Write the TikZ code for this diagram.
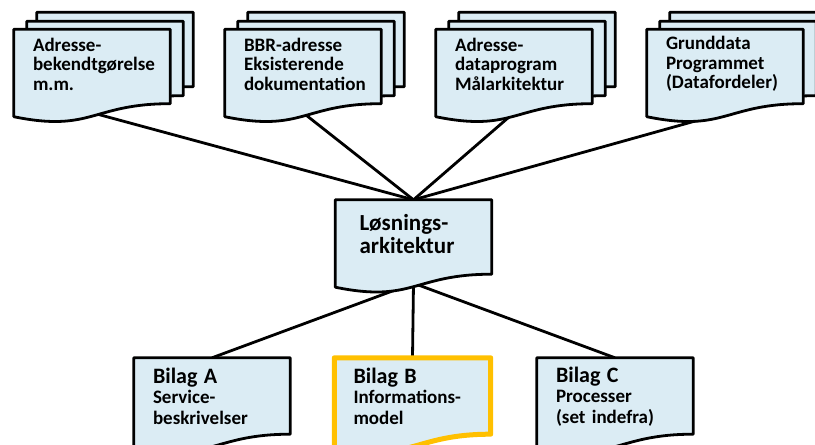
\documentclass[tikz,border=0pt]{standalone}
\usepackage{fontspec}
\setmainfont{Carlito}
\usetikzlibrary{calc,backgrounds}
\definecolor{docfill}{RGB}{219,236,244}
\definecolor{bilagline}{RGB}{255,192,0}
% Omrids af et dokument (boelget bund under nodens south)
\newcommand{\docpath}[1]{(#1.north west) -- (#1.north east) -- ($(#1.south east)+(0,-5)$) .. controls ($(#1.south)+(0,-5)$) and ($(#1.south)+(0,-34)$) .. ($(#1.south west)+(0,-18)$) -- cycle}
\newcommand{\bigline}[1]{{\fontsize{22}{22}\selectfont\rule{0pt}{21pt}#1}}

\begin{document}
\begin{tikzpicture}[x=1pt,y=1pt,
    doc/.style={minimum width=156pt, minimum height=69pt, inner xsep=19pt, inner ysep=0pt,
        text width=118pt, align=left, font=\bfseries\fontsize{19}{19.5}\selectfont},
    sol/.style={doc, inner xsep=24pt, text width=108pt, font=\bfseries\fontsize{23}{23}\selectfont},
    bilag/.style={doc, minimum height=71pt, font=\bfseries\fontsize{19}{20.5}\selectfont},
    docline/.style={draw=black, line width=2.8pt, fill=docfill, line join=round},
    conn/.style={line width=2.8pt}]
    \useasboundingbox (0,0) rectangle (815,445);
    % Kildedokumenter
    \foreach \n/\x/\t in {adr/92/{Adresse-\\bekendtgørelse\\m.m.},
                          bbr/303/{BBR-adresse\\Eksisterende\\dokumentation},
                          dap/514/{Adresse-\\dataprogram\\Målarkitektur},
                          gdp/725/{Grunddata\\Programmet\\(Datafordeler)}}
        \node[doc] (\n) at (\x,381) {\t};
    % Loesningsarkitektur
    \node[sol] (los) at (413.5,210.5) {Løsnings-\\arkitektur};
    % Bilag
    \node[bilag] (bilA) at (212,51.5) {\bigline{Bilag A}\\Service-\\beskrivelser};
    \node[bilag] (bilB) at (412.5,51.5) {\bigline{Bilag B}\\Informations-\\model};
    \node[bilag] (bilC) at (615,51.5) {\bigline{Bilag C}\\Processer\\(set indefra)};
    \begin{scope}[on background layer]
        % Forbindelser
        \foreach \n in {adr,bbr,dap,gdp}
            \draw[conn] ($(\n.south)+(0,-14)$) -- (los.north);
        \foreach \n in {bilA,bilB,bilC}
            \draw[conn] ($(los.south)+(0,-14)$) -- (\n.north);
        % Dokumentstakke
        \foreach \n in {adr,bbr,dap,gdp} {
            \draw[docline, transform canvas={shift={(23pt,17pt)}}] \docpath{\n};
            \draw[docline, transform canvas={shift={(13pt,8pt)}}] \docpath{\n};
            \draw[docline] \docpath{\n};
        }
        \draw[docline] \docpath{los};
        \draw[docline] \docpath{bilA};
        \draw[docline, draw=bilagline, line width=5pt] \docpath{bilB};
        \draw[docline] \docpath{bilC};
    \end{scope}
\end{tikzpicture}
\end{document}
